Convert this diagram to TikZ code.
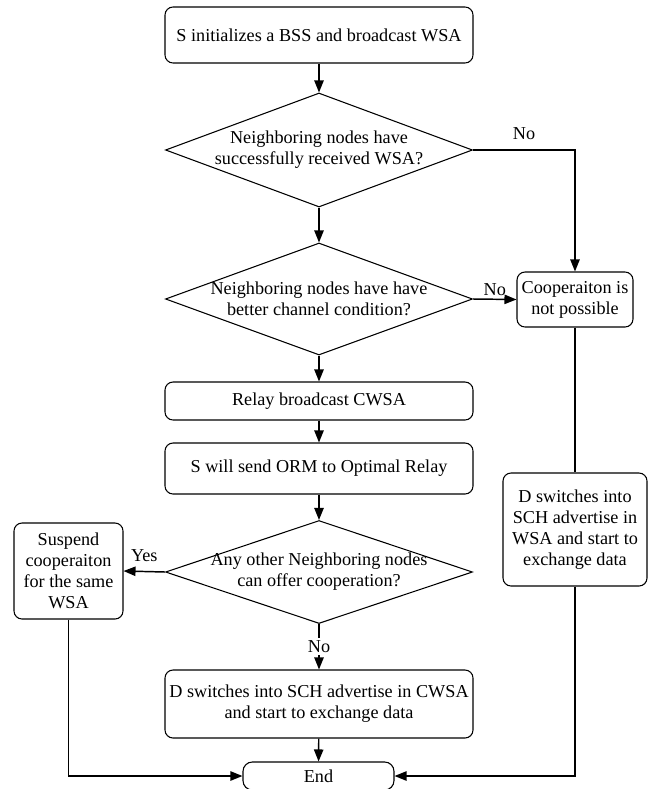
\documentclass[tikz,border=0pt]{standalone}
\usepackage{fontspec}
\setmainfont{Liberation Serif}
\usetikzlibrary{arrows.meta, shapes.geometric}

\begin{document}
\begin{tikzpicture}[
  x=0.75pt, y=0.75pt, >={Triangle[length=9pt,width=7pt]},
  font=\fontsize{13.65}{15.75}\selectfont,
  box/.style={draw, line width=0.8pt, rounded corners=6pt, align=center, inner sep=2pt},
  wbox/.style={box, minimum width=231pt},
  dia/.style={draw, diamond, line width=0.8pt, inner sep=0pt, minimum width=230.25pt},
  dtxt/.style={align=center, inner sep=0pt},
  arr/.style={->, line width=1.1pt},
  lab/.style={inner sep=2pt}]
  \useasboundingbox (0,0) rectangle (649,-789);
  % main column
  \node[wbox, minimum height=42pt] (init) at (319,-35) {S initializes a BSS and broadcast WSA};
  \node[dia, minimum height=85.5pt] (d1) at (319,-150) {};
  \node[dtxt] (d1t) at (d1) {Neighboring nodes have\\successfully received WSA?};
  \node[dia, minimum height=84pt] (d2) at (319,-299) {};
  \node[dtxt] (d2t) at (d2) {Neighboring nodes have have\\better channel condition?};
  \node[wbox, minimum height=28.5pt] (relay) at (319,-401) {Relay broadcast CWSA};
  \node[wbox, minimum height=38.25pt] (send) at (319,-468.5) {S will send ORM to Optimal Relay};
  \node[dia, minimum height=77.25pt] (d3) at (319,-572) {};
  \node[dtxt] (d3t) at (d3) {Any other Neighboring nodes\\can offer cooperation?};
  \node[wbox, minimum height=51pt] (dbot) at (319,-704) {D switches into SCH advertise in CWSA\\and start to exchange data};
  \node[box, minimum width=113.25pt, minimum height=21pt, rounded corners=7pt] (end) at (318.5,-776) {End};
  % side boxes
  \node[box, minimum width=87pt, minimum height=41.25pt] (coop) at (575,-299.5) {Cooperaiton is\\not possible};
  \node[box, minimum width=108pt, minimum height=84.75pt] (dright) at (575,-529.5) {D switches into\\SCH advertise in\\WSA and start to\\exchange data};
  \node[box, minimum width=81.75pt, minimum height=72pt] (susp) at (68.5,-571) {Suspend\\cooperaiton\\for the same\\WSA};
  % main flow
  \draw[arr] (init) -- (d1);
  \draw[arr] (d1) -- (d2);
  \draw[arr] (d2) -- (relay);
  \draw[arr] (relay) -- (send);
  \draw[arr] (send) -- (d3);
  \draw[arr] (d3.south) -- node[lab, fill=white] {No} (dbot.north);
  \draw[arr] (dbot) -- (end);
  % branches
  \draw[arr] (d1.east) -| node[lab, pos=0.25, above=5pt] {No} (coop.north);
  \draw[arr] (d2.east) -- node[lab, above] {No} (coop.west);
  \draw[arr] (d3.west) -- node[lab, above=5pt] {Yes} (susp.east);
  \draw[line width=1.1pt] (coop) -- (dright);
  \draw[arr] (dright.south) |- (end.east);
  \draw[arr] (susp.south) |- (end.west);
\end{tikzpicture}
\end{document}
